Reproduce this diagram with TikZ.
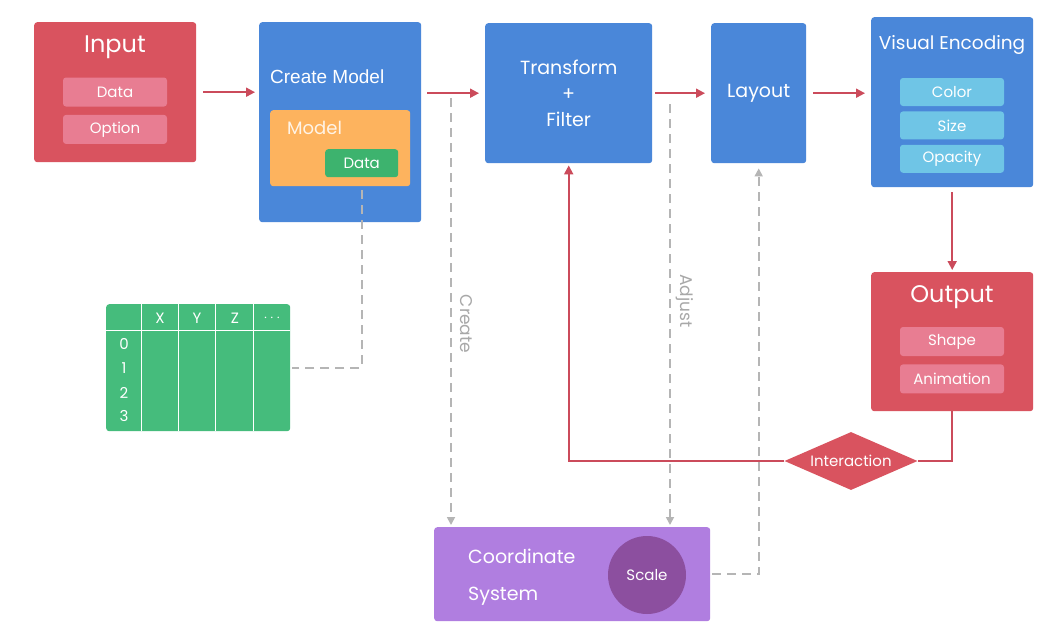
\documentclass[tikz,border=0pt]{standalone}
\usepackage{fontspec}
\setmainfont{Poppins}
\newfontfamily\helv{Liberation Sans}
\usetikzlibrary{arrows.meta,positioning,shapes.geometric}
\definecolor{redbox}{HTML}{D9535F}
\definecolor{redsub}{HTML}{E87D92}
\definecolor{bluebox}{HTML}{4A87D9}
\definecolor{cyansub}{HTML}{6FC5E6}
\definecolor{orangebox}{HTML}{FDB35E}
\definecolor{greenbox}{HTML}{45BC7C}
\definecolor{greendata}{HTML}{3DB36E}
\definecolor{purplebox}{HTML}{B07EE0}
\definecolor{scalefill}{HTML}{8C4F9F}
\definecolor{flow}{HTML}{CB4B5B}
\definecolor{dashgray}{HTML}{B5B5B5}
\definecolor{labelgray}{HTML}{A8A8A8}
\tikzset{
  box/.style={rounded corners=3pt, inner sep=0pt, text=white},
  sub/.style={box, minimum width=104pt, minimum height=29pt, font=\fontsize{15}{18}\selectfont},
  title/.style={text=white, inner sep=0pt, font=\fontsize{#1}{#1}\selectfont},
  flowarr/.style={-{Triangle[length=9pt,width=9pt]}, line width=1.9pt, draw=flow},
  flowline/.style={line width=1.9pt, draw=flow},
  dasharr/.style={-{Triangle[length=8pt,width=8pt]}, line width=1.7pt, draw=dashgray, dash pattern=on 9pt off 6pt},
  dashline/.style={line width=1.7pt, draw=dashgray, dash pattern=on 9pt off 6pt},
  sidelabel/.style={text=labelgray, rotate=-90, inner sep=0pt, font=\fontsize{17}{17}\selectfont}
}
\begin{document}
\begin{tikzpicture}[x=1pt, y=-1pt]
  \useasboundingbox[fill=white] (0,0) rectangle (1057,632);

  % input
  \node[box, fill=redbox, minimum width=162pt, minimum height=140pt, anchor=north west] (input) at (34,22) {};
  \node[title=24] (inputT) at (115,47) {Input};
  \node[sub, fill=redsub] (inData) at (115,92) {Data};
  \node[sub, fill=redsub, below=8pt of inData] (inOption) {Option};

  % create model
  \node[box, fill=bluebox, minimum width=162pt, minimum height=200pt, anchor=north west] (cm) at (259,22) {};
  \node[title=19, font=\helv\fontsize{19}{19}\selectfont, anchor=west] (cmT) at (270,77) {Create Model};
  \node[box, fill=orangebox, minimum width=140pt, minimum height=76pt, anchor=north west] (model) at (270,110) {};
  \node[title=18, text=white!85!orangebox, anchor=west] (modelT) at (287,128) {Model};
  \node[sub, fill=greendata, minimum width=73pt, minimum height=28pt, anchor=north west] (mData) at (325,149) {Data};

  % transform, layout
  \node[box, fill=bluebox, minimum width=167pt, minimum height=140pt, anchor=north west, align=center,
        font=\fontsize{19}{26}\selectfont] (tf) at (485,23) {Transform\\+\\Filter};
  \node[box, fill=bluebox, minimum width=95pt, minimum height=140pt, anchor=north west,
        font=\fontsize{19}{19}\selectfont] (layout) at (711,23) {Layout};

  % visual encoding
  \node[box, fill=bluebox, minimum width=162pt, minimum height=170pt, anchor=north west] (vis) at (871,17) {};
  \node[title=18.5] (visT) at (952,45) {Visual Encoding};
  \node[sub, fill=cyansub, minimum height=28pt] (vColor) at (952,92) {Color};
  \node[sub, fill=cyansub, minimum height=28pt, below=5pt of vColor] (vSize) {Size};
  \node[sub, fill=cyansub, minimum height=28pt, below=5pt of vSize] (vOpacity) {Opacity};

  % output
  \node[box, fill=redbox, minimum width=162pt, minimum height=139pt, anchor=north west] (out) at (871,272) {};
  \node[title=24] (outT) at (952,297) {Output};
  \node[sub, fill=redsub] (oShape) at (952,341.5) {Shape};
  \node[sub, fill=redsub, below=8pt of oShape] (oAnim) {Animation};

  % interaction
  \node[diamond, aspect=2.3, fill=redbox, text=white, inner sep=0pt, minimum width=133pt, minimum height=58pt,
        font=\fontsize{15}{15}\selectfont] (inter) at (851,461) {Interaction};

  % coordinate system
  \node[box, fill=purplebox, minimum width=276pt, minimum height=94pt, anchor=north west] (cs) at (434,527) {};
  \node[title=19, anchor=west] (csA) at (468,556) {Coordinate};
  \node[title=19, anchor=west] (csB) at (468,596) {System};
  \node[circle, fill=scalefill, text=white, minimum size=78pt, inner sep=0pt,
        font=\fontsize{15}{15}\selectfont] (scale) at (647,575) {Scale};

  % table
  \node[box, fill=greenbox, minimum width=184pt, minimum height=127pt, anchor=north west] (tbl) at (106,304) {};
  \draw[white, line width=0.8pt] (106,330) -- (290,330);
  \foreach \x in {141,178,215,253}
    \draw[white, line width=0.8pt] (\x,304) -- (\x,431);
  \foreach \t/\x in {X/160,Y/197,Z/235,$\cdots$/272}
    \node[title=15] (h\x) at (\x,318) {\t};
  \foreach \t/\y in {0/344,1/368,2/393,3/416}
    \node[title=15] (r\t) at (124,\y) {\t};

  % flow
  \draw[flowarr] ([xshift=7pt]input.east) -- ([xshift=-4pt]input.east -| cm.west);
  \draw[flowarr] ([xshift=6pt]cm.east |- tf.west) -- ([xshift=-6pt]tf.west);
  \draw[flowarr] ([xshift=3pt]tf.east |- layout.west) -- ([xshift=-6pt]layout.west);
  \draw[flowarr] ([xshift=7pt]layout.east) -- ([xshift=-6pt]layout.east -| vis.west);
  \draw[flowarr] ([yshift=-5pt]vis.south) -- ([yshift=2pt]out.north);
  \draw[flowline] (out.south) |- (inter.east);
  \draw[flowarr] (inter.west) -| ([yshift=-2pt]tf.south);

  % dashed
  \coordinate (createTop) at (451,98);
  \coordinate (adjustTop) at (670,104);
  \draw[dasharr] (createTop) -- ([yshift=2pt]createTop |- cs.north);
  \draw[dasharr] (adjustTop) -- ([yshift=2pt]adjustTop |- cs.north);
  \node[sidelabel] (createL) at (466,324) {Create};
  \node[sidelabel] (adjustL) at (685,301) {Adjust};
  \draw[dasharr] ([xshift=2pt]cs.east) -| ([yshift=-5pt]layout.south);
  \draw[dashline] ([yshift=-13pt]mData.south) |- ([xshift=2pt]tbl.east);
\end{tikzpicture}
\end{document}
